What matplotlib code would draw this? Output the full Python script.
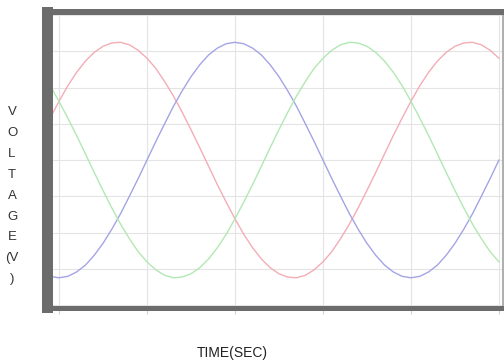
import matplotlib.pyplot as plt

# time in ms (every 0.5 ms), voltages in V for the three phases
t = [-0.5 + 0.5 * i for i in range(52)]
v_red = [116, 162, 205, 242, 273, 297, 314, 323, 325, 318, 303, 281, 253, 217, 177, 132, 84, 34,
         -17, -68, -116, -162, -205, -242, -273, -297, -314, -323, -325, -318, -303, -281, -253,
         -217, -177, -132, -84, -34, 17, 68, 116, 162, 205, 242, 273, 297, 314, 323, 325, 318,
         303, 281]
v_blue = [-321, -325, -321, -309, -290, -263, -230, -191, -148, -100, -51, 0, 51, 100, 148, 191,
          230, 263, 290, 309, 321, 325, 321, 309, 290, 263, 230, 191, 148, 100, 51, 0, -51, -100,
          -148, -191, -230, -263, -290, -309, -321, -325, -321, -309, -290, -263, -230, -191,
          -148, -100, -51, 0]
v_green = [205, 162, 116, 68, 17, -34, -84, -132, -177, -217, -253, -281, -303, -318, -325, -323,
           -314, -297, -273, -242, -205, -162, -116, -68, -17, 34, 84, 132, 177, 217, 253, 281,
           303, 318, 325, 323, 314, 297, 273, 242, 205, 162, 116, 68, 17, -34, -84, -132, -177,
           -217, -253, -281]

x_ticks = [0, 5, 10, 15, 20, 25]
y_ticks = [-400, -300, -200, -100, 0, 100, 200, 300, 400]
ylabel_chars = ['V', 'O', 'L', 'T', 'A', 'G', 'E', '(V', ')']

W, H = 504, 362
fig = plt.figure(figsize=(W / 100, H / 100), dpi=100)
ax = fig.add_axes([46.5 / W, 1 - 307.5 / H, (503 - 46.5) / W, (307.5 - 11.5) / H])

ax.plot(t, v_red, color='#f3adb6', lw=1.0)
ax.plot(t, v_blue, color='#a4a4e6', lw=1.0)
ax.plot(t, v_green, color='#b2e8b2', lw=1.0)

ax.set_xlim(-0.71, 25.23)
ax.set_ylim(-407, 410)
ax.set_xticks(x_ticks)
ax.set_yticks(y_ticks)
ax.set_xticklabels([])
ax.set_yticklabels([])
ax.tick_params(axis='x', direction='out', length=4, color='#d0d0d0', width=0.8)
ax.tick_params(axis='y', length=0)
ax.grid(True, color='#e4e4e4', lw=0.8)
ax.set_axisbelow(True)

ax.spines['left'].set_linewidth(11 * 0.72)
ax.spines['top'].set_linewidth(6 * 0.72)
ax.spines['bottom'].set_linewidth(5 * 0.72)
ax.spines['right'].set_linewidth(1.5)
for s in ['left', 'top', 'bottom']:
    ax.spines[s].set_color('#6c6c6c')
ax.spines['right'].set_color('#b0b0b0')

fam = ['Liberation Sans Narrow', 'Liberation Sans', 'DejaVu Sans']
fig.text(232 / W, 1 - 353 / H, 'TIME(SEC)', ha='center', va='center',
         fontsize=10, family=fam, color='#222222')
for i, ch in enumerate(ylabel_chars):
    fig.text(12 / W, 1 - (112 + i * 20.9) / H, ch, ha='center', va='center',
             fontsize=9.5, family=['Liberation Sans', 'DejaVu Sans'], color='#333333')

fig.savefig('out.png', dpi=100)
